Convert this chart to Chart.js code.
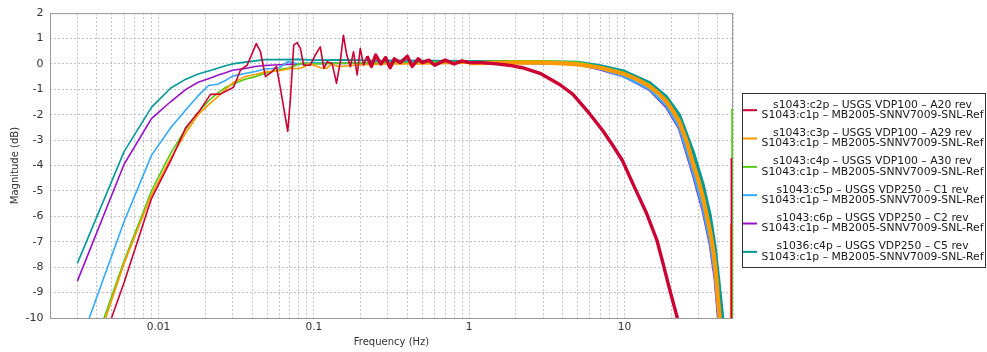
<!DOCTYPE html>
<html>
<head>
<meta charset="utf-8">
<script src="https://cdn.jsdelivr.net/npm/chart.js@4.4.1/dist/chart.umd.min.js"></script>
<style>
  html, body { margin: 0; padding: 0; background: #ffffff; }
  canvas { display: block; }
</style>
</head>
<body>
<canvas id="c" width="987" height="352"></canvas>
<script>
// ---------------- data ----------------
const redF = [0.003,0.006,0.009,0.012,0.015,0.0186,0.0216,0.025,0.0304,0.0337,0.0372,0.0426,0.0453,0.0488,0.0539,0.0574,0.0609,0.0679,0.0707,0.0742,0.078,0.0819,0.086,0.0949,0.102,0.11,0.116,0.122,0.131,0.14,0.148,0.155,0.163,0.172,0.18,0.19,0.199,0.209,0.22,0.235,0.25,0.27,0.29,0.31,0.33,0.36,0.4,0.43,0.47,0.5,0.55,0.6,0.7,0.8,0.9,1.0,1.2,1.5,1.8,2.2,2.86,3.85,4.66,6.0,7.3,8.5,9.7,11.5,13.9,16.2,17.7,19.6,21.8,25,35,48.7,48.8];
const redDb = [-13.8,-8.6,-5.3,-3.8,-2.5,-1.8,-1.2,-1.19,-0.92,-0.24,-0.05,0.8,0.48,-0.5,-0.3,-0.1,-0.96,-2.65,-1.35,0.75,0.84,0.61,-0.05,-0.05,0.34,0.67,-0.18,0.09,0.02,-0.76,0.09,1.13,0.34,-0.11,0.48,-0.43,0.61,-0.05,0.3,-0.1,0.35,0.0,0.25,-0.15,0.2,0.05,0.3,-0.1,0.2,0.05,0.15,-0.05,0.15,0.0,0.12,0.05,0.05,0.0,-0.05,-0.15,-0.37,-0.82,-1.2,-1.98,-2.65,-3.25,-3.8,-4.8,-5.89,-6.95,-7.84,-8.9,-9.95,-12,-20,-40,-3.7];

const orangeF = [0.003,0.006,0.009,0.012,0.015,0.018,0.021,0.024,0.027,0.03,0.036,0.042,0.048,0.054,0.06,0.07,0.08,0.088,0.092,0.1,0.11,0.12,0.13,0.145,0.17,0.2,0.3,0.5,1,2,3,4,5,7,10,12,14.5,16.5,18.6,20.5,22.5,25,27.6,30,32,34,35.5,37,38.2,39.2,39.9,41.1,43,48.2,48.3];
const orangeDb = [-13.3,-7.85,-5.15,-3.7,-2.7,-2.0,-1.6,-1.3,-1.0,-0.75,-0.5,-0.42,-0.33,-0.28,-0.27,-0.18,-0.18,-0.1,0.02,-0.05,-0.15,-0.18,-0.02,-0.1,-0.07,-0.03,0.0,0.0,0.03,0.05,0.05,0.02,-0.02,-0.15,-0.4,-0.6,-0.89,-1.15,-1.48,-1.85,-2.26,-3.0,-3.9,-4.6,-5.25,-6.0,-6.55,-7.2,-7.84,-8.5,-9.17,-10,-13,-40,-6.3];

const greenF = [0.003,0.006,0.009,0.012,0.015,0.018,0.021,0.024,0.027,0.03,0.036,0.042,0.048,0.054,0.06,0.07,0.082,0.1,0.13,0.2,0.5,1,2,3,5,7,10,14.5,18.6,22.5,27.6,32,35.5,38.2,39.9,41.2,43,49.2,49.3];
const greenDb = [-13.0,-7.75,-5.0,-3.5,-2.55,-1.9,-1.45,-1.15,-0.92,-0.8,-0.6,-0.5,-0.38,-0.3,-0.22,-0.15,0.02,0.0,0.02,0.03,0.05,0.05,0.1,0.1,0.05,-0.12,-0.35,-0.82,-1.4,-2.2,-3.8,-5.15,-6.45,-7.75,-9.1,-10,-14,-40,-1.75];

const blueF = [0.003,0.006,0.009,0.012,0.015,0.018,0.021,0.024,0.027,0.03,0.036,0.042,0.048,0.054,0.06,0.068,0.08,0.1,0.15,0.3,1,2,5,7,10,14.5,18.6,22.5,27.6,32,35.5,38.2,39.5,40.3,42,48];
const blueDb = [-11.3,-6.2,-3.6,-2.5,-1.8,-1.25,-0.85,-0.8,-0.65,-0.48,-0.38,-0.3,-0.2,-0.18,-0.15,0.09,0.0,0.05,0.02,0.05,0.05,0.05,0.0,-0.2,-0.5,-1.0,-1.65,-2.5,-4.25,-5.7,-7.0,-8.3,-9.3,-10,-14,-35];

const purpleF = [0.003,0.006,0.009,0.012,0.015,0.018,0.021,0.024,0.027,0.03,0.036,0.042,0.048,0.06,0.08,0.1,0.2,0.5,1,2,5,7,10,14.5,18.6,22.5,27.6,32,35.5,38.2,39.5,40.1,42,48];
const purpleDb = [-8.55,-3.95,-2.15,-1.48,-1.0,-0.72,-0.58,-0.45,-0.35,-0.25,-0.18,-0.1,-0.06,-0.03,0.0,0.02,0.03,0.05,0.05,0.05,0.0,-0.22,-0.5,-1.02,-1.7,-2.55,-4.35,-5.8,-7.1,-8.45,-9.5,-10,-14,-35];

const tealF = [0.003,0.006,0.009,0.012,0.015,0.018,0.021,0.024,0.027,0.03,0.036,0.042,0.048,0.06,0.08,0.1,0.15,0.2,0.3,1,2,5,7,10,14.5,18.6,22.5,27.6,32,35.5,38.2,40.5,42.8,44,48];
const tealDb = [-7.85,-3.45,-1.71,-0.95,-0.6,-0.4,-0.28,-0.17,-0.07,0.0,0.07,0.12,0.17,0.17,0.18,0.15,0.16,0.15,0.1,0.08,0.08,0.05,-0.08,-0.3,-0.75,-1.3,-2.0,-3.45,-4.75,-5.95,-7.2,-8.6,-10,-13,-35];

const legendLine1 = [
  's1043:c2p \u2013 USGS VDP100 \u2013 A20 rev',
  's1043:c3p \u2013 USGS VDP100 \u2013 A29 rev',
  's1043:c4p \u2013 USGS VDP100 \u2013 A30 rev',
  's1043:c5p \u2013 USGS VDP250 \u2013 C1 rev',
  's1043:c6p \u2013 USGS VDP250 \u2013 C2 rev',
  's1036:c4p \u2013 USGS VDP250 \u2013 C5 rev'
];
const legendLine2 = [
  'S1043:c1p \u2013 MB2005-SNNV7009-SNL-Ref',
  'S1043:c1p \u2013 MB2005-SNNV7009-SNL-Ref',
  'S1043:c1p \u2013 MB2005-SNNV7009-SNL-Ref',
  'S1043:c1p \u2013 MB2005-SNNV7009-SNL-Ref',
  'S1043:c1p \u2013 MB2005-SNNV7009-SNL-Ref',
  'S1043:c1p \u2013 MB2005-SNNV7009-SNL-Ref'
];

const xGridValues = [0.002,0.003,0.004,0.005,0.006,0.007,0.008,0.009,
  0.01,0.02,0.03,0.04,0.05,0.06,0.07,0.08,0.09,
  0.1,0.2,0.3,0.4,0.5,0.6,0.7,0.8,0.9,
  1,2,3,4,5,6,7,8,9,
  10,20,30,40,50];
const xDecades = [0.01, 0.1, 1, 10];
const xDecadeLabels = ['0.01', '0.1', '1', '10'];

// ---------------- styles ----------------
const seriesStyle = [
  { color: '#cc0033', thin: 1.6, wide: 3.4, from: 0.21, to: 22 },
  { color: '#ff9900', thin: 1.6, wide: 4.2, from: 0.9,  to: 41.5 },
  { color: '#55cc11', thin: 1.6, wide: 2.6, from: 0.3,  to: 41.5 },
  { color: '#33aaff', thin: 1.6, wide: 2.6, from: 0.3,  to: 40.5 },
  { color: '#9911cc', thin: 1.6, wide: 2.6, from: 0.3,  to: 40.5 },
  { color: '#009999', thin: 1.6, wide: 3.6, from: 0.3,  to: 43 }
];

const seriesF = [redF, orangeF, greenF, blueF, purpleF, tealF];
const seriesDb = [redDb, orangeDb, greenDb, blueDb, purpleDb, tealDb];

function zip(fs, vs) {
  const n = Math.min(fs.length, vs.length);
  const out = [];
  for (let i = 0; i < n; i++) out.push({ x: fs[i], y: vs[i] });
  return out;
}

const datasets = seriesF.map((fs, i) => {
  const st = seriesStyle[i];
  return {
    label: legendLine1[i],
    data: zip(fs, seriesDb[i]),
    borderColor: st.color,
    backgroundColor: st.color,
    borderWidth: st.thin,
    pointRadius: 0,
    pointHoverRadius: 0,
    tension: 0,
    fill: false,
    borderJoinStyle: 'round',
    segment: {
      borderWidth: ctx => {
        const a = ctx.p0.parsed.x;
        return (a >= st.from && a < st.to) ? st.wide : st.thin;
      }
    }
  };
});

const framePlugin = {
  id: 'frame',
  beforeDatasetsDraw(chart) {
    const { ctx, chartArea: a } = chart;
    ctx.save();
    ctx.strokeStyle = '#9a9a9a';
    ctx.lineWidth = 1;
    ctx.strokeRect(a.left + 0.5, a.top + 0.5, a.right - a.left - 1, a.bottom - a.top);
    ctx.restore();
  }
};

const legendPlugin = {
  id: 'boxLegend',
  afterDraw(chart) {
    const ctx = chart.ctx;
    const L = 742.5, T = 93.5, R = 985.5, B = 267.5;
    ctx.save();
    ctx.fillStyle = '#ffffff';
    ctx.fillRect(L, T, R - L, B - T);
    ctx.strokeStyle = '#333333';
    ctx.lineWidth = 1;
    ctx.strokeRect(L, T, R - L, B - T);
    ctx.font = '10.8px "DejaVu Sans"';
    ctx.textAlign = 'center';
    ctx.textBaseline = 'middle';
    chart.data.datasets.forEach((ds, i) => {
      const y1 = 105 + 28.33 * i;
      ctx.fillStyle = '#1a1a1a';
      ctx.fillText(legendLine1[i], 872.5, y1);
      ctx.fillText(legendLine2[i], 872.5, y1 + 10.3);
      ctx.strokeStyle = ds.borderColor;
      ctx.lineWidth = 2;
      ctx.beginPath();
      ctx.moveTo(743, y1 + 5.2);
      ctx.lineTo(757, y1 + 5.2);
      ctx.stroke();
    });
    ctx.restore();
  }
};

new Chart(document.getElementById('c'), {
  type: 'line',
  data: { datasets },
  options: {
    responsive: false,
    devicePixelRatio: 1,
    animation: false,
    events: [],
    layout: { padding: { left: 0, right: 254, top: 11, bottom: 0 } },
    plugins: { legend: { display: false }, tooltip: { enabled: false }, title: { display: false } },
    scales: {
      x: {
        type: 'logarithmic',
        min: 0.002,
        max: 50,
        afterBuildTicks: s => { s.ticks = xGridValues.map(v => ({ value: v })); },
        afterFit: s => { s.height = 34; },
        grid: { color: '#c4c4c4', lineWidth: 1, drawTicks: false },
        border: { display: false, dash: [2, 2] },
        ticks: {
          autoSkip: false,
          maxRotation: 0,
          padding: 3,
          color: '#333333',
          font: { family: 'DejaVu Sans', size: 10.6 },
          callback: v => {
            const k = xDecades.findIndex(d => Math.abs(d - v) / d < 1e-6);
            return k >= 0 ? xDecadeLabels[k] : '';
          }
        },
        title: {
          display: true,
          text: 'Frequency (Hz)',
          color: '#333333',
          font: { family: 'DejaVu Sans', size: 10 },
          padding: { top: 0, bottom: 4 }
        }
      },
      y: {
        type: 'linear',
        min: -10,
        max: 2,
        afterFit: s => { s.width = 50; },
        grid: { color: '#c4c4c4', lineWidth: 1, drawTicks: false },
        border: { display: false, dash: [2, 2] },
        ticks: {
          stepSize: 1,
          padding: 6.5,
          color: '#333333',
          font: { family: 'DejaVu Sans', size: 11 }
        },
        title: {
          display: true,
          text: 'Magnitude (dB)',
          color: '#333333',
          font: { family: 'DejaVu Sans', size: 10 },
          padding: { top: 9, bottom: 0 }
        }
      }
    }
  },
  plugins: [framePlugin, legendPlugin]
});
</script>
</body>
</html>
